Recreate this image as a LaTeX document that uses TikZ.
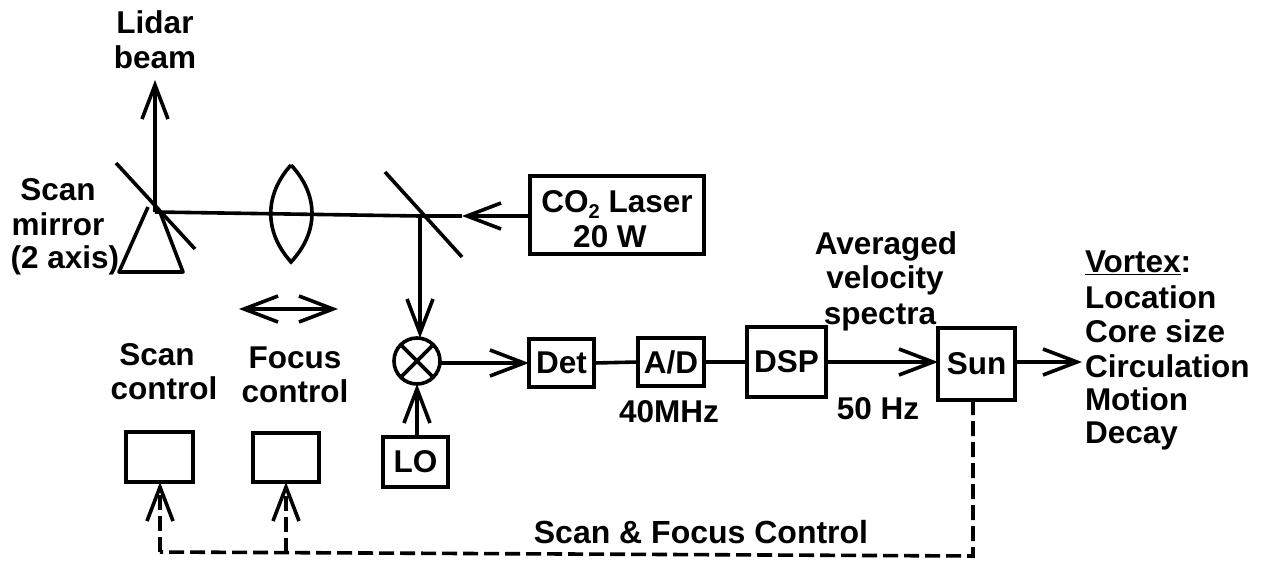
\documentclass[tikz,border=0pt]{standalone}
\usepackage{fontspec}
\setmainfont{Liberation Sans}
\usetikzlibrary{arrows.meta}
\tikzset{
  x=1pt,y=-1pt,
  every node/.style={font=\fontsize{31.5}{35}\selectfont\bfseries,inner sep=0pt,outer sep=0pt},
  lbl/.style={align=center,anchor=base},
  lst/.style={align=left,anchor=north west},
  boxn/.style={draw,line width=3.6pt,anchor=north west,minimum width=#1},
  ln/.style={line width=3.6pt},
  bar/.style={ln,-{Straight Barb[length=34pt,width=26pt,line width=3.6pt]}},
  bartwo/.style={ln,{Straight Barb[length=34pt,width=26pt,line width=3.6pt]}-{Straight Barb[length=34pt,width=26pt,line width=3.6pt]}},
  dash line/.style={ln,dash pattern=on 15pt off 6pt},
}
\newcommand{\boxat}[6]{\node[boxn=#4 pt,minimum height=#5 pt] (#1) at (#2,#3) {#6};}
\begin{document}
\begin{tikzpicture}
\useasboundingbox (0,0) rectangle (1262,560);
% boxes
\boxat{laser}{530}{176}{174}{78}{}
\node[lbl] (lasertxt) at (617,212) {CO\raisebox{-6pt}{\fontsize{20}{20}\selectfont\bfseries 2} Laser};
\node[lbl] (lasertxtb) at (610,247) {20 W};
\boxat{det}{529}{339}{65}{48}{Det}
\boxat{ad}{638}{338}{66}{48}{A/D}
\boxat{dsp}{747}{327}{79}{70}{DSP}
\boxat{sun}{938}{328}{77}{72}{Sun}
\boxat{lo}{383}{437}{65}{50}{LO}
\boxat{scan}{126}{432}{67}{50}{}
\boxat{focus}{253}{433}{66}{49}{}
\node[draw,circle,line width=3.6pt,minimum size=46pt] (mix) at (417,361) {};
\draw[ln] (mix.45) -- (mix.225);
\draw[ln] (mix.135) -- (mix.-45);
% optics coordinates
\coordinate (sm) at (155,212);
\coordinate (bs) at (420,216);
\coordinate (beamtip) at (155,80);
\coordinate (mida) at (462,216);
\coordinate (dfl) at (239,309);
\coordinate (dfr) at (338,309);
\coordinate (outtip) at (1082,362);
\coordinate (dsun) at (973,400);
\coordinate (dcorn) at (973,556);
\coordinate (dfoc) at (286,553);
\coordinate (dscan) at (160,552);
\coordinate (mirA) at (116,163);
\coordinate (mirB) at (195,249);
\coordinate (bsA) at (385,172);
\coordinate (bsB) at (462,257);
\coordinate (triL) at (148,207);
\coordinate (triBL) at (119,272);
\coordinate (triBR) at (183,272);
\coordinate (triT) at (160,212);
\coordinate (lensT) at (291,165);
\coordinate (lensB) at (291,262);
% optics
\draw[ln] (mirA) -- (mirB);
\draw[ln] (bsA) -- (bsB);
\draw[ln,line join=round] (triL) -- (triBL) -- (triBR) -- (triT);
\draw[ln] (lensT) .. controls (264,195) and (264,232) .. (lensB) .. controls (319,232) and (319,195) .. (lensT);
\draw[ln] (sm) -- (bs);
\draw[bar] (sm) -- (beamtip);
\draw[bar] (laser.west |- mida) -- (mida);
\draw[ln] (mida) -- (bs);
\draw[bar] (bs) -- (mix.north -| bs);
\draw[bartwo] (dfl) -- (dfr);
% signal chain
\draw[bar] (mix.east |- det.west) -- (det.west);
\draw[ln] (det.east) -- (ad.west);
\draw[ln] (ad.east) -- (dsp.west |- ad.east);
\draw[bar] (dsp.east) -- (sun.west |- dsp.east);
\draw[bar] (sun.east |- outtip) -- (outtip);
\draw[bar] (lo.north -| mix) -- (mix.south);
% dashed control
\draw[dash line] (dsun) -- (dcorn) -- (dscan);
\draw[bar,dash pattern=on 15pt off 6pt] (dscan) -- (scan.south -| dscan);
\draw[bar,dash pattern=on 15pt off 6pt] (dfoc) -- (focus.south -| dfoc);
% labels
\node[lbl] (lidar) at (155,33) {Lidar};
\node[lbl] (beamt) at (155,68) {beam};
\node[lbl] (s1) at (58,200) {Scan};
\node[lbl] (s2) at (58,235) {mirror};
\node[lbl] (s3) at (65,268) {(2 axis)};
\node[lbl] (c1) at (157,365) {Scan};
\node[lbl] (c2) at (164,399) {control};
\node[lbl] (f1) at (295,368) {Focus};
\node[lbl] (f2) at (295,402) {control};
\node[lbl] (a1) at (886,254) {Averaged};
\node[lbl] (a2) at (885,288) {velocity};
\node[lbl] (a3) at (880,324) {spectra};
\node[lbl] (mhz) at (669,422) {40MHz};
\node[lbl] (hz) at (878,419) {50 Hz};
\node[lbl,font=\fontsize{32}{36}\selectfont\bfseries] (sf) at (701,543) {Scan \& Focus Control};
\node[lst,anchor=base west] (v1) at (1085,272) {\underline{Vortex}:};
\node[lst,anchor=base west] (v2) at (1085,308) {Location};
\node[lst,anchor=base west] (v3) at (1085,342) {Core size};
\node[lst,anchor=base west] (v4) at (1085,377) {Circulation};
\node[lst,anchor=base west] (v5) at (1085,410) {Motion};
\node[lst,anchor=base west] (v6) at (1085,443) {Decay};
\end{tikzpicture}
\end{document}
